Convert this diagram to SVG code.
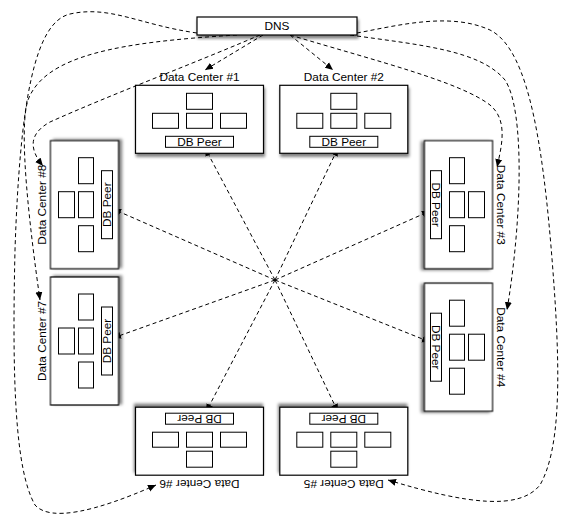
<svg xmlns="http://www.w3.org/2000/svg" xmlns:xlink="http://www.w3.org/1999/xlink" width="570" height="526" viewBox="0 0 570 526">
<style>
.outer{fill:#fff;stroke:#000;stroke-width:1.2}
.in{fill:#fff;stroke:#000;stroke-width:1}
.t{font-family:"Liberation Sans",Arial,sans-serif;font-size:11.8px;text-anchor:middle;fill:#000}
.dash{fill:none;stroke:#000;stroke-width:1;stroke-dasharray:4,3;marker-end:url(#ah)}
</style>
<defs>
<filter id="sh" x="-15%" y="-20%" width="135%" height="150%">
<feGaussianBlur in="SourceAlpha" stdDeviation="1.5"/>
<feOffset dx="1" dy="3"/>
<feComponentTransfer><feFuncA type="linear" slope="0.5"/></feComponentTransfer>
<feMerge><feMergeNode/><feMergeNode in="SourceGraphic"/></feMerge>
</filter>
<marker id="ah" markerWidth="10" markerHeight="8" refX="8" refY="4" orient="auto" markerUnits="userSpaceOnUse">
<path d="M0,0.5 L8,4 L0,7.5 z" fill="#000"/>
</marker>
<g id="body">
<rect class="outer" x="-64" y="-34" width="128" height="68" filter="url(#sh)"/>
<rect class="in" x="-13" y="-26" width="26" height="16"/>
<rect class="in" x="-47" y="-6" width="26" height="15"/>
<rect class="in" x="-13" y="-6" width="26" height="15"/>
<rect class="in" x="21" y="-6" width="26" height="15"/>
<rect class="in" x="-34" y="17" width="68" height="11"/>
<text class="t" x="0" y="26.5">DB Peer</text>
</g>
</defs>

<g id="connectors">
<path class="dash" d="M275,280 L205,148"/>
<path class="dash" d="M275,280 L338,148"/>
<path class="dash" d="M275,280 L430,211"/>
<path class="dash" d="M275,280 L430,342"/>
<path class="dash" d="M275,280 L338,412"/>
<path class="dash" d="M275,280 L206,412"/>
<path class="dash" d="M275,280 L113,338"/>
<path class="dash" d="M275,280 L113,209"/>
<path class="dash" d="M263,35 L205,70"/>
<path class="dash" d="M290,35 L333,70"/>
<path class="dash" d="M260,35 C190,65 110,95 50,122 C30,133 28,148 43,166"/>
<path class="dash" d="M237,35 C120,42 45,55 28,100 C18,130 30,230 40,300"/>
<path class="dash" d="M197,33 C140,25 110,5 70,14 C35,22 20,100 15,250 C12,380 15,470 35,505 C50,522 95,512 156,485"/>
<path class="dash" d="M290,35 C380,62 460,82 490,105 C508,120 502,145 497,167"/>
<path class="dash" d="M350,35 C420,45 480,50 505,80 C525,110 522,220 507,310"/>
<path class="dash" d="M357,33 C400,25 450,12 490,30 C530,50 545,150 555,300 C560,380 560,450 540,485 C520,510 470,505 388,480"/>
</g>

<g id="dns">
<rect class="outer" x="197" y="17" width="160" height="18" filter="url(#sh)"/>
<text class="t" x="277" y="30">DNS</text>
</g>

<g id="dc1" transform="translate(199.5,119.3)"><use xlink:href="#body"/><text class="t" x="0" y="-38.5">Data Center #1</text></g>
<g id="dc2" transform="translate(343.8,119.3)"><use xlink:href="#body"/><text class="t" x="0" y="-38.5">Data Center #2</text></g>
<g id="dc3" transform="translate(458.5,204.7) rotate(90)"><use xlink:href="#body"/><text class="t" x="0" y="-38.5">Data Center #3</text></g>
<g id="dc4" transform="translate(458.5,347.2) rotate(90)"><use xlink:href="#body"/><text class="t" x="0" y="-38.5">Data Center #4</text></g>
<g id="dc5" transform="translate(343.8,441.2) rotate(180)"><use xlink:href="#body"/><text class="t" x="0" y="-38.5">Data Center #5</text></g>
<g id="dc6" transform="translate(199.5,441.2) rotate(180)"><use xlink:href="#body"/><text class="t" x="0" y="-38.5">Data Center #6</text></g>
<g id="dc7" transform="translate(84.5,341) rotate(-90)"><use xlink:href="#body"/><text class="t" x="0" y="-38.5">Data Center #7</text></g>
<g id="dc8" transform="translate(84.5,204.7) rotate(-90)"><use xlink:href="#body"/><text class="t" x="0" y="-38.5">Data Center #8</text></g>
</svg>
